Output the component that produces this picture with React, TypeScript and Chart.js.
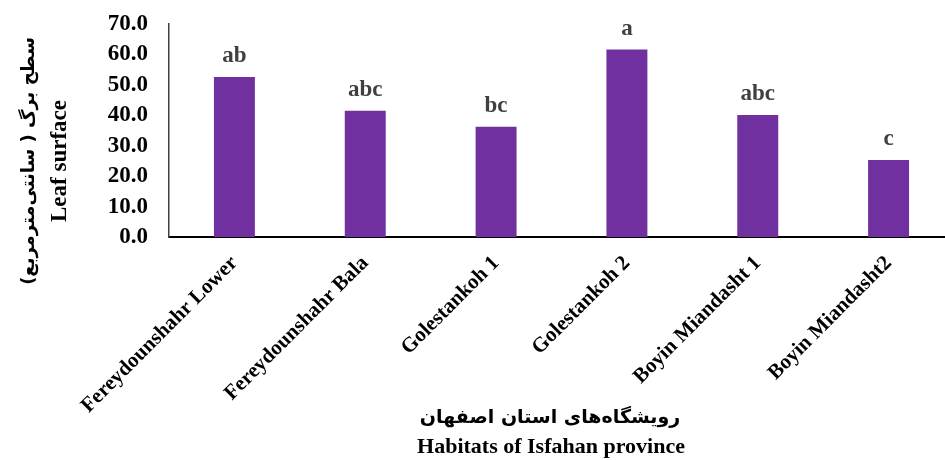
import React, { useEffect, useRef } from "react";
import { Chart, registerables } from "chart.js";

Chart.register(...registerables);

const categories = [
  "Fereydounshahr Lower",
  "Fereydounshahr Bala",
  "Golestankoh 1",
  "Golestankoh 2",
  "Boyin Miandasht 1",
  "Boyin Miandasht2",
];
const leafSurface = [52.6, 41.5, 36.2, 61.6, 40.1, 25.3];
const groupLetters = ["ab", "abc", "bc", "a", "abc", "c"];
const yTitleFa = "سطح برگ ( سانتی‌مترمربع)";
const yTitleEn = "Leaf surface";
const xTitleFa = "رویشگاه‌های استان اصفهان";
const xTitleEn = "Habitats of Isfahan province";

const SERIF = "'Liberation Serif', 'Times New Roman', 'DejaVu Serif', serif";
const FA = "'DejaVu Sans', 'Noto Sans', sans-serif";

const annotationPlugin = {
  id: "annotations",
  afterDatasetsDraw(chart: any) {
    const ctx = chart.ctx;
    const meta = chart.getDatasetMeta(0);
    ctx.save();
    ctx.fillStyle = "#404040";
    ctx.font = `bold 23px ${SERIF}`;
    ctx.textAlign = "center";
    ctx.textBaseline = "alphabetic";
    meta.data.forEach((bar: any, i: number) => {
      ctx.fillText(groupLetters[i], bar.x, bar.y - 15);
    });
    ctx.restore();
  },
  afterDraw(chart: any) {
    const ctx = chart.ctx;
    ctx.save();
    ctx.fillStyle = "#000";
    // y axis title
    ctx.save();
    ctx.translate(29, 161);
    ctx.rotate(-Math.PI / 2);
    ctx.textAlign = "center";
    ctx.textBaseline = "middle";
    ctx.direction = "rtl";
    ctx.font = `bold 18px ${FA}`;
    ctx.fillText(yTitleFa, 0, 0);
    ctx.direction = "ltr";
    ctx.font = `bold 23px ${SERIF}`;
    ctx.fillText(yTitleEn, 0, 31);
    ctx.restore();
    // x axis title
    ctx.textAlign = "center";
    ctx.textBaseline = "middle";
    ctx.direction = "rtl";
    ctx.font = `bold 19px ${FA}`;
    ctx.fillText(xTitleFa, 550, 418);
    ctx.direction = "ltr";
    ctx.font = `bold 22px ${SERIF}`;
    ctx.fillText(xTitleEn, 551, 447);
    ctx.restore();
  },
};

export default function App() {
  const canvasRef = useRef<HTMLCanvasElement | null>(null);

  useEffect(() => {
    document.body.style.margin = "0";
    const canvas = canvasRef.current;
    if (!canvas) return;
    const chart = new Chart(canvas, {
      type: "bar",
      data: {
        labels: categories,
        datasets: [
          {
            data: leafSurface,
            backgroundColor: "#7030A0",
            borderWidth: 0,
            barPercentage: 0.313,
            categoryPercentage: 1,
          },
        ],
      },
      options: {
        responsive: false,
        animation: false,
        events: [],
        layout: { padding: { top: 24, left: 0, right: 0, bottom: 0 } },
        plugins: {
          legend: { display: false },
          tooltip: { enabled: false },
          title: { display: false },
        },
        scales: {
          x: {
            offset: true,
            grid: { display: false, drawTicks: false },
            border: { display: true, color: "#000", width: 2 },
            ticks: {
              color: "#000",
              font: { family: SERIF, size: 21, weight: "bold" },
              maxRotation: 45,
              minRotation: 45,
              padding: 14,
              autoSkip: false,
            },
            afterFit: (scale: any) => {
              scale.height = 223;
              scale.paddingLeft = 0;
              scale.paddingRight = 0;
            },
          },
          y: {
            min: 0,
            max: 70,
            grid: { display: false, drawTicks: false },
            border: { display: true, color: "#404040", width: 1.5 },
            ticks: {
              stepSize: 10,
              autoSkip: false,
              color: "#000",
              padding: 21,
              font: { family: SERIF, size: 23, weight: "bold" },
              callback: (v: any) => Number(v).toFixed(1),
            },
            afterFit: (scale: any) => {
              scale.width = 169;
              scale.paddingTop = 0;
              scale.paddingBottom = 0;
            },
          },
        },
      },
      plugins: [annotationPlugin],
    });
    return () => chart.destroy();
  }, []);

  return (
    <div style={{ width: 945, height: 460, overflow: "hidden", background: "#fff" }}>
      <canvas ref={canvasRef} width={954} height={460} style={{ display: "block" }} />
    </div>
  );
}
